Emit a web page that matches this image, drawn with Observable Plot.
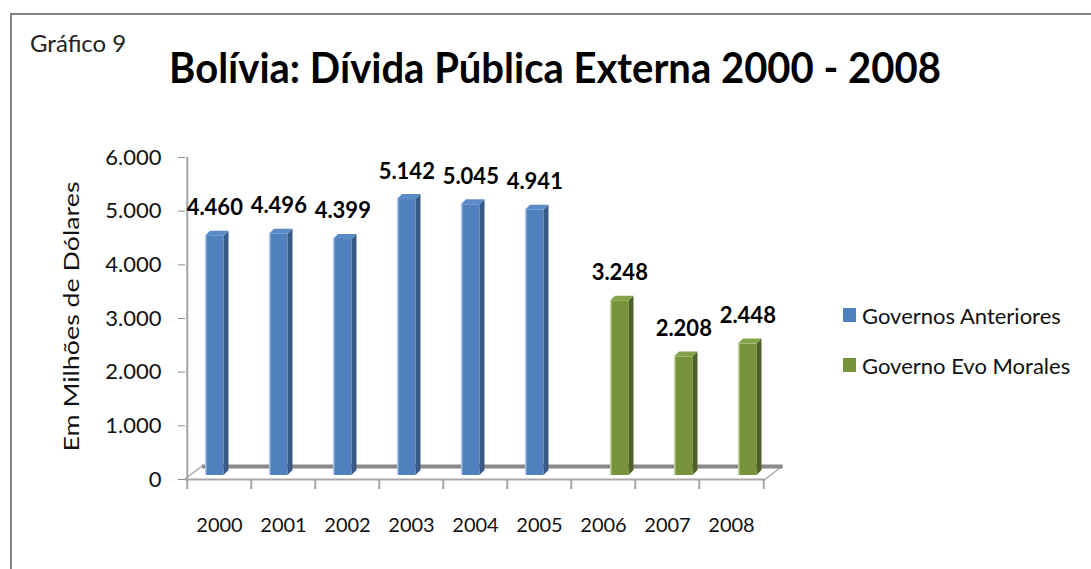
<!DOCTYPE html>
<html><head><meta charset="utf-8">
<script src="https://cdn.jsdelivr.net/npm/d3@7"></script>
<script src="https://cdn.jsdelivr.net/npm/@observablehq/plot@0.6"></script>
<style>
body{margin:0;background:#fff;}
#wrap{position:relative;width:1091px;height:569px;overflow:hidden;background:#fff;font-family:Lato,"Open Sans",sans-serif;color:#000;}
#frame{position:absolute;left:10px;top:13px;width:1100px;height:600px;border-left:2px solid #858585;border-top:2px solid #858585;}
#chart{position:absolute;left:0;top:0;}
#kicker{position:absolute;left:30px;top:28px;font-size:24px;color:#222;white-space:nowrap;}
#title{position:absolute;left:0;width:1110px;text-align:center;top:43px;font-size:40px;font-weight:bold;white-space:nowrap;transform:scaleY(1.06);}
.leg{position:absolute;left:843px;font-size:22px;display:flex;align-items:center;height:26px;white-space:nowrap;color:#111;}
.sw{width:13px;height:14px;margin-right:6px;}
</style></head><body>
<div id="wrap">
  <div id="frame"></div>
  <div id="chart"></div>
  <div id="kicker"></div>
  <div id="title"></div>
  <div id="legend"></div>
</div>
<script>
const kicker = "Gráfico 9";
const title = "Bolívia: Dívida Pública Externa 2000 - 2008";
const yLabel = "Em Milhões de Dólares";
const years = ["2000","2001","2002","2003","2004","2005","2006","2007","2008"];
const seriesNames = ["Governos Anteriores","Governo Evo Morales"];
const anteriores = [4460,4496,4399,5142,5045,4941];
const evoMorales = [3248,2208,2448];
const yTicks = [0,1000,2000,3000,4000,5000,6000];

const colors = {
  front:["#4f81bd","#77933c"],
  side:["#375a87","#4f6228"],
  top:["#5a8bc7","#83a146"],
  edge:["#a9c3e6","#c3d69b"]
};

const fmt = d3.formatLocale({decimal:",",thousands:".",grouping:[3],currency:["",""]}).format(",d");

const rows = [
  ...anteriores.map((v,i)=>({year:years[i], value:v, s:0})),
  ...evoMorales.map((v,i)=>({year:years[anteriores.length+i], value:v, s:1}))
];

const W=800, H=569, ml=185, mr=W-765.5, mt=157, mb=H-479;
const step=(W-ml-mr)/years.length;
const depth=5, lift=4, faceW=19;
const slot=[18,39];

function bars(s){
  const d=rows.filter(r=>r.s===s);
  const L=slot[s], R=step-L-faceW;
  return [
    Plot.barY(d,{x:"year",y:"value",fill:colors.front[s],insetLeft:L,insetRight:R,dy:-lift}),
    Plot.barY(d,{x:"year",y:"value",fill:colors.edge[s],insetLeft:L,insetRight:step-L-2,dy:-lift}),
    Plot.text(d,{x:"year",y:"value",text:r=>fmt(r.value),dx:L+faceW/2-step/2,dy:-32,fontSize:22,fontWeight:"bold",fill:"#000"})
  ];
}

const plot = Plot.plot({
  width:W, height:H,
  marginLeft:ml, marginRight:mr, marginTop:mt, marginBottom:mb,
  style:{fontFamily:"Lato, 'Open Sans', sans-serif", fontSize:"20px", background:"transparent", overflow:"visible"},
  x:{type:"band", domain:years, padding:0},
  y:{domain:[0,6000]},
  marks:[
    Plot.ruleY([0],{stroke:"#8a8a8a",strokeWidth:4,dx:17,dy:-13}),
    Plot.ruleY([0],{stroke:"#a6a6a6",strokeWidth:2}),
    Plot.ruleX(years,{x:d=>d,dx:-step/2,y1:0,y2:0,insetBottom:-10,stroke:"#a6a6a6",strokeWidth:2}),
    Plot.ruleX([years[years.length-1]],{x:d=>d,dx:step/2,y1:0,y2:0,insetBottom:-10,stroke:"#a6a6a6",strokeWidth:2}),
    Plot.ruleX([years[0]],{x:d=>d,dx:-step/2,y1:0,y2:6000,stroke:"#a6a6a6",strokeWidth:2}),
    Plot.axisY({ticks:yTicks,tickFormat:fmt,tickSize:7,tickPadding:17,fontSize:22,stroke:"#8c8c8c",fill:"#111",label:null}),
    Plot.axisX({tickSize:0,tickPadding:38,fontSize:20,fill:"#111",label:null}),
    Plot.text([yLabel],{frameAnchor:"left",textAnchor:"middle",rotate:-90,dx:-113,dy:-2,fontSize:21,fill:"#111"}),
    ...bars(0),
    ...bars(1)
  ]
});

const svg = d3.select(plot);
// 3D faces built from each front rect that Plot drew (found by its fill)
[0,1].forEach(s=>{
  svg.selectAll("g").filter(function(){ return (this.getAttribute("fill")||"").toLowerCase()===colors.front[s]; })
    .selectAll("rect").each(function(){
      const x=+this.getAttribute("x"), y=+this.getAttribute("y"), w=+this.getAttribute("width"), h=+this.getAttribute("height");
      const tr=this.getAttribute("transform");
      const parent=d3.select(this.parentNode);
      const side=parent.append("polygon").attr("fill",colors.side[s])
        .attr("points",[[x+w,y],[x+w+depth,y-depth],[x+w+depth,y+h-depth],[x+w,y+h]].join(" "));
      const top=parent.append("polygon").attr("fill",colors.top[s])
        .attr("points",[[x,y],[x+w,y],[x+w+depth,y-depth],[x+depth,y-depth]].join(" "));
      if(tr){side.attr("transform",tr);top.attr("transform",tr);}
    });
});
// stretch the axis title to the reference length
svg.selectAll("text").filter(function(){ return this.textContent===yLabel; })
  .attr("textLength",270).attr("lengthAdjust","spacingAndGlyphs");
// floor side edges from Plot's own scales
const xr = plot.scale("x").range, y0 = plot.scale("y").apply(0);
const g = svg.insert("g","g").attr("stroke","#a6a6a6").attr("stroke-width",1.5);
[xr[0], xr[1]].forEach(x=>g.append("line").attr("x1",x).attr("y1",y0).attr("x2",x+17).attr("y2",y0-13));

document.getElementById("chart").appendChild(plot);
document.getElementById("kicker").textContent = kicker;
document.getElementById("title").textContent = title;
const leg = document.getElementById("legend");
const legendTops=[302,352];
seriesNames.forEach((n,i)=>{
  const it=document.createElement("div"); it.className="leg"; it.style.top=legendTops[i]+"px";
  const sw=document.createElement("div"); sw.className="sw"; sw.style.background=colors.front[i];
  const t=document.createElement("span"); t.textContent=n;
  it.appendChild(sw); it.appendChild(t); leg.appendChild(it);
});
</script>
</body></html>
